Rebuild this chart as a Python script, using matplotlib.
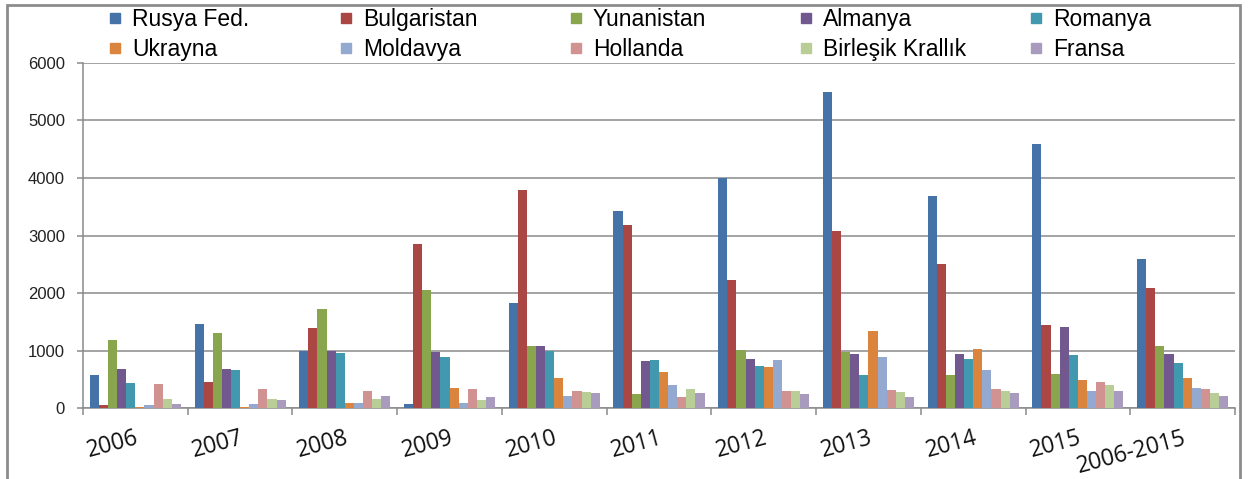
import numpy as np
import matplotlib
matplotlib.use("Agg")
import matplotlib.pyplot as plt
from matplotlib.lines import Line2D
from matplotlib.patches import Rectangle

years = ["2006", "2007", "2008", "2009", "2010", "2011", "2012", "2013", "2014", "2015", "2006-2015"]

countries = ["Rusya Fed.", "Bulgaristan", "Yunanistan", "Almanya", "Romanya",
             "Ukrayna", "Moldavya", "Hollanda", "Birleşik Krallık", "Fransa"]

colors = ["#4572A7", "#AA4643", "#89A54E", "#71588F", "#4198AF",
          "#DB843D", "#93A9CF", "#D19392", "#B9CD96", "#A99BBD"]

rusya = [570, 1460, 1000, 70, 1820, 3420, 3990, 5490, 3680, 4590, 2600]
bulgaristan = [50, 450, 1400, 2860, 3790, 3180, 2220, 3080, 2510, 1450, 2080]
yunanistan = [1190, 1300, 1720, 2060, 1080, 250, 1010, 970, 580, 600, 1080]
almanya = [680, 680, 990, 970, 1080, 820, 850, 940, 940, 1410, 940]
romanya = [440, 660, 960, 890, 990, 840, 740, 580, 860, 920, 790]
ukrayna = [15, 15, 100, 360, 530, 630, 720, 1340, 1030, 490, 520]
moldavya = [50, 70, 90, 90, 210, 400, 840, 890, 660, 300, 360]
hollanda = [420, 330, 300, 330, 300, 200, 300, 310, 330, 450, 330]
birlesik = [160, 160, 160, 140, 280, 330, 300, 290, 300, 400, 260]
fransa = [70, 150, 210, 200, 260, 260, 250, 200, 260, 300, 210]

series = [rusya, bulgaristan, yunanistan, almanya, romanya,
          ukrayna, moldavya, hollanda, birlesik, fransa]

fig = plt.figure(figsize=(12.48, 4.79), dpi=100)
ax = fig.add_axes([0.0665, 0.1476, 0.9231, 0.7215])

# bars
x = np.arange(len(years))
n = len(series)
w = 1 / (n + 1.5)
for i, (vals, c) in enumerate(zip(series, colors)):
    ax.bar(x + (i - (n - 1) / 2) * w, vals, width=w, color=c, linewidth=0, zorder=3)

grid_c = "#8a8a8a"
ax.set_xlim(-0.5, len(years) - 0.5)
ax.set_ylim(0, 6000)
ax.set_yticks(np.arange(0, 6001, 1000))
ax.yaxis.grid(True, color=grid_c, linewidth=1.1, zorder=0)
for s in ["top", "right"]:
    ax.spines[s].set_visible(False)
for s in ["left", "bottom"]:
    ax.spines[s].set_color(grid_c)
    ax.spines[s].set_linewidth(1.1)

ax.tick_params(axis="y", length=4, color=grid_c, width=1.1, pad=9,
               labelsize=12, labelcolor="#222222")
for lab in ax.get_yticklabels():
    lab.set_fontfamily("Liberation Sans")

# category labels centred on groups, boundary ticks between groups
ax.set_xticks(x)
ax.set_xticklabels(years, rotation=15, ha="right", va="top",
                   rotation_mode="anchor", fontsize=16.5, family="Open Sans",
                   color="#111111")
ax.tick_params(axis="x", which="major", length=0, pad=13)
ax.set_xticks(np.arange(-0.5, len(years), 1), minor=True)
ax.tick_params(axis="x", which="minor", length=5, color=grid_c, width=1.1)

# legend: 5 columns, 2 rows, evenly spaced like the original
handles = [Line2D([], [], marker="s", ls="", color=c, markersize=7.5) for c in colors]
x0 = 0.074
step = 0.1845
for col in range(5):
    fig.legend(handles=[handles[col], handles[col + 5]],
               labels=[countries[col], countries[col + 5]],
               loc="upper left", bbox_to_anchor=(x0 + col * step, 1.016),
               frameon=False, handlelength=0.6, handletextpad=0.45,
               labelspacing=0.3, borderpad=0.2,
               prop={"family": "Liberation Sans", "size": 16.5})

# outer chart frame
fig.add_artist(Rectangle((0.0056, -0.05), 0.9880, 1.0396, transform=fig.transFigure,
                         fill=False, edgecolor="#8c8c8c", linewidth=2))

fig.savefig("out.png", dpi=100)
